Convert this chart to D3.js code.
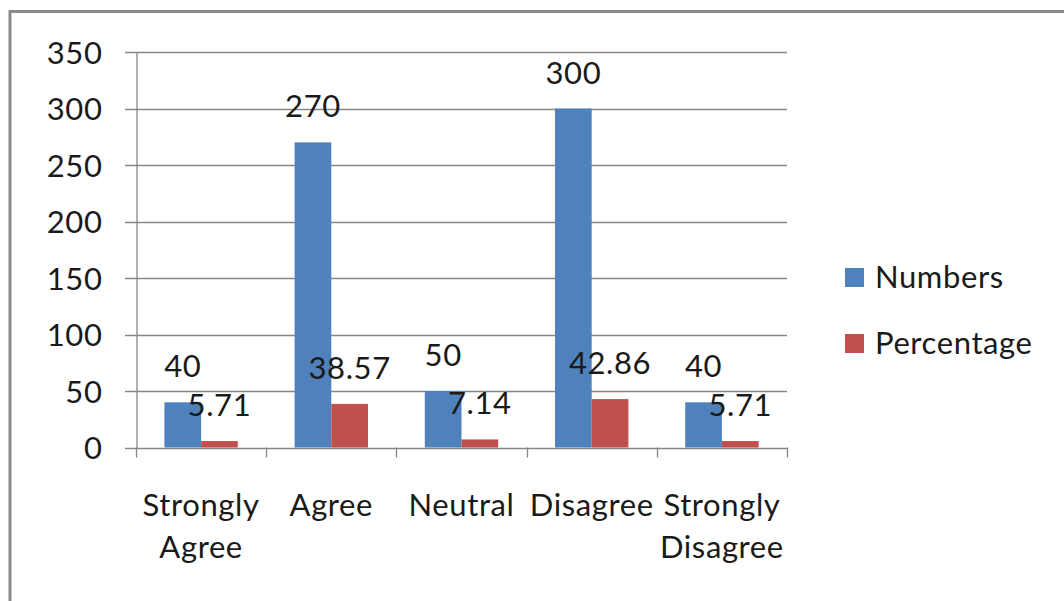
<!DOCTYPE html>
<html>
<head>
<meta charset="utf-8">
<script src="https://cdn.jsdelivr.net/npm/d3@7"></script>
<style>
  html, body { margin: 0; padding: 0; background: #fff; }
  svg { display: block; }
  text { font-family: Lato, "Open Sans", sans-serif; fill: #1a1a1a; letter-spacing: 0.6px; }
</style>
</head>
<body>
<svg id="chart" width="1064" height="601"></svg>
<script>
// Survey responses: count and share per answer
const categories = ["Strongly Agree", "Agree", "Neutral", "Disagree", "Strongly Disagree"];
const seriesNames = ["Numbers", "Percentage"];
const numbers = [40, 270, 50, 300, 40];
const percentage = [5.71, 38.57, 7.14, 42.86, 5.71];
const numberLabels = ["40", "270", "50", "300", "40"];
const percentageLabels = ["5.71", "38.57", "7.14", "42.86", "5.71"];
const yTicks = [0, 50, 100, 150, 200, 250, 300, 350];

const colors = { Numbers: "#4F81BD", Percentage: "#C0504D" };
const gridColor = "#878787";
const fontSize = 31;

const svg = d3.select("#chart");

// frame of the chart area
svg.append("line").attr("x1", 10).attr("x2", 10).attr("y1", 10).attr("y2", 601)
  .attr("stroke", "#8a8a8a").attr("stroke-width", 3);
svg.append("line").attr("x1", 9).attr("x2", 1064).attr("y1", 11.5).attr("y2", 11.5)
  .attr("stroke", "#8a8a8a").attr("stroke-width", 3);

const plot = { left: 136, right: 787, top: 52, bottom: 447.5 };

const y = d3.scaleLinear().domain([0, 350]).range([plot.bottom, plot.top]);
const x0 = d3.scaleBand().domain(categories).range([plot.left, plot.right]).paddingInner(0).paddingOuter(0);
const x1 = d3.scaleBand().domain(seriesNames).range([0, x0.bandwidth()]).paddingInner(0).paddingOuter(0.774);

// horizontal gridlines with left tick stubs
svg.append("g").selectAll("line").data(yTicks).join("line")
  .attr("x1", plot.left - 11).attr("x2", plot.right)
  .attr("y1", d => Math.round(y(d)) + 0.5).attr("y2", d => Math.round(y(d)) + 0.5)
  .attr("stroke", gridColor).attr("stroke-width", 1.3);

// value axis
const yAxis = d3.axisLeft(y).tickValues(yTicks).tickSize(0).tickPadding(34);
const gy = svg.append("g").attr("transform", `translate(${plot.left + 0.5},0)`).call(yAxis);
gy.select(".domain").attr("stroke", gridColor).attr("stroke-width", 1.3);
gy.selectAll("text").attr("font-size", fontSize).attr("font-family", "Lato, sans-serif")
  .attr("fill", "#1a1a1a").attr("dy", "0.36em");

// category axis with boundary ticks
const boundaries = categories.map(c => x0(c)).concat([plot.right]);
svg.append("g").selectAll("line").data(boundaries).join("line")
  .attr("x1", d => Math.round(d) + 0.5).attr("x2", d => Math.round(d) + 0.5)
  .attr("y1", plot.bottom).attr("y2", plot.bottom + 10)
  .attr("stroke", gridColor).attr("stroke-width", 1.3);

// bars
const rows = categories.map((c, i) => ({
  category: c,
  values: [
    { key: "Numbers", value: numbers[i], label: numberLabels[i] },
    { key: "Percentage", value: percentage[i], label: percentageLabels[i] }
  ]
}));

const groups = svg.append("g").selectAll("g").data(rows).join("g")
  .attr("transform", d => `translate(${x0(d.category)},0)`);

groups.selectAll("rect").data(d => d.values).join("rect")
  .attr("x", d => x1(d.key))
  .attr("y", d => y(d.value))
  .attr("width", x1.bandwidth())
  .attr("height", d => y(0) - y(d.value))
  .attr("fill", d => colors[d.key]);

// data labels above each bar
groups.selectAll("text").data(d => d.values).join("text")
  .attr("x", d => x1(d.key) + x1.bandwidth() / 2)
  .attr("y", d => y(d.value) - 25)
  .attr("text-anchor", "middle")
  .attr("font-size", fontSize)
  .text(d => d.label);

// category labels, wrapped onto two lines where needed
const catLabels = svg.append("g").selectAll("text").data(categories).join("text")
  .attr("x", d => x0(d) + x0.bandwidth() / 2)
  .attr("y", 516)
  .attr("text-anchor", "middle")
  .attr("font-size", fontSize);
catLabels.each(function (d) {
  const words = d.split(" ");
  const t = d3.select(this);
  words.forEach((w, i) => {
    t.append("tspan").attr("x", x0(d) + x0.bandwidth() / 2).attr("dy", i === 0 ? 0 : 42).text(w);
  });
});

// legend
const legend = svg.append("g").selectAll("g").data(seriesNames).join("g")
  .attr("transform", (d, i) => `translate(845,${268 + i * 66})`);
legend.append("rect").attr("width", 19).attr("height", 19).attr("fill", d => colors[d]);
legend.append("text").attr("x", 30).attr("y", 20).attr("font-size", fontSize).text(d => d);
</script>
</body>
</html>
